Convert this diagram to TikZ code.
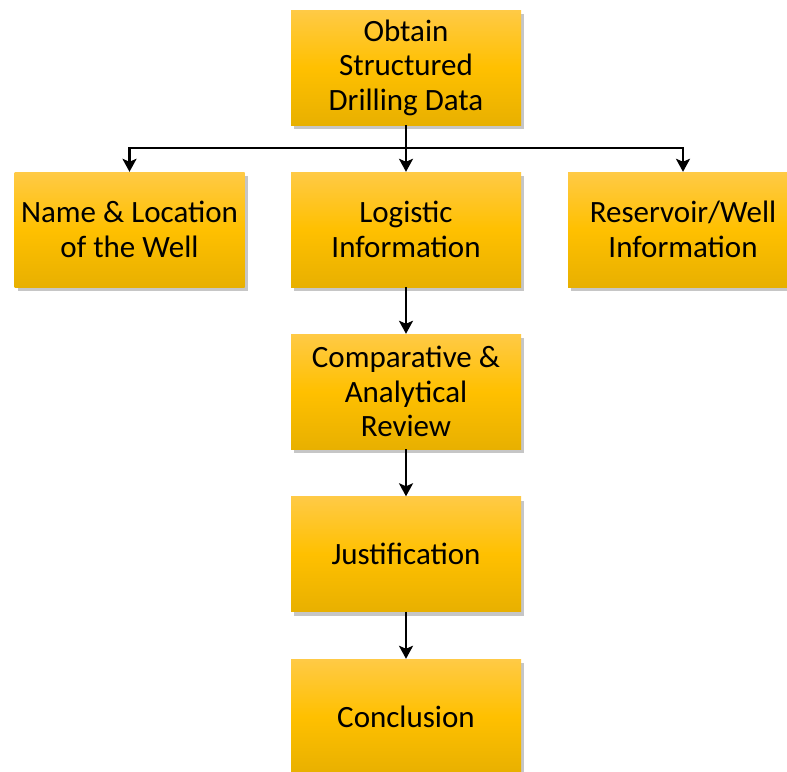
\documentclass[tikz,border=0pt]{standalone}
\usepackage{fontspec}
\setmainfont{Carlito}
\usetikzlibrary{shadows,arrows.meta}
\definecolor{boxtop}{RGB}{255,202,70}
\definecolor{boxmid}{RGB}{255,192,0}
\definecolor{boxbot}{RGB}{232,176,0}
\begin{document}
\begin{tikzpicture}[x=1pt,y=-1pt,
  box/.style={rectangle, minimum width=230pt, minimum height=115pt, inner sep=2pt,
    top color=boxtop, bottom color=boxbot, middle color=boxmid,
    drop shadow={shadow xshift=3pt, shadow yshift=-4pt, fill=black!50, opacity=0.45},
    align=center, font=\fontsize{31}{34.5}\selectfont, text=black},
  conn/.style={line width=2.6pt, draw=black},
  arr/.style={conn, -{Stealth[length=13pt,width=14pt,inset=3pt]}}]
\useasboundingbox (0,0) rectangle (787,771);
\clip (0,0) rectangle (787,771);
\node[box] (top) at (406,67.5) {Obtain\\Structured\\Drilling Data};
\node[box] (name) at (129.5,229.5) {Name \& Location\\of the Well};
\node[box] (logi) at (406,229.5) {Logistic\\Information};
\node[box] (res) at (683,229.5) {Reservoir/Well\\Information};
\node[box] (comp) at (406,391.5) {Comparative \&\\Analytical\\Review};
\node[box] (just) at (406,554) {Justification};
\node[box] (conc) at (406,716.5) {Conclusion};
\coordinate (j) at (406,148);
\draw[arr] (top.south) -- (logi.north);
\draw[arr] (j) -| (name.north);
\draw[arr] (j) -| (res.north);
\draw[arr] (logi.south) -- (comp.north);
\draw[arr] (comp.south) -- (just.north);
\draw[arr] (just.south) -- (conc.north);
\end{tikzpicture}
\end{document}
